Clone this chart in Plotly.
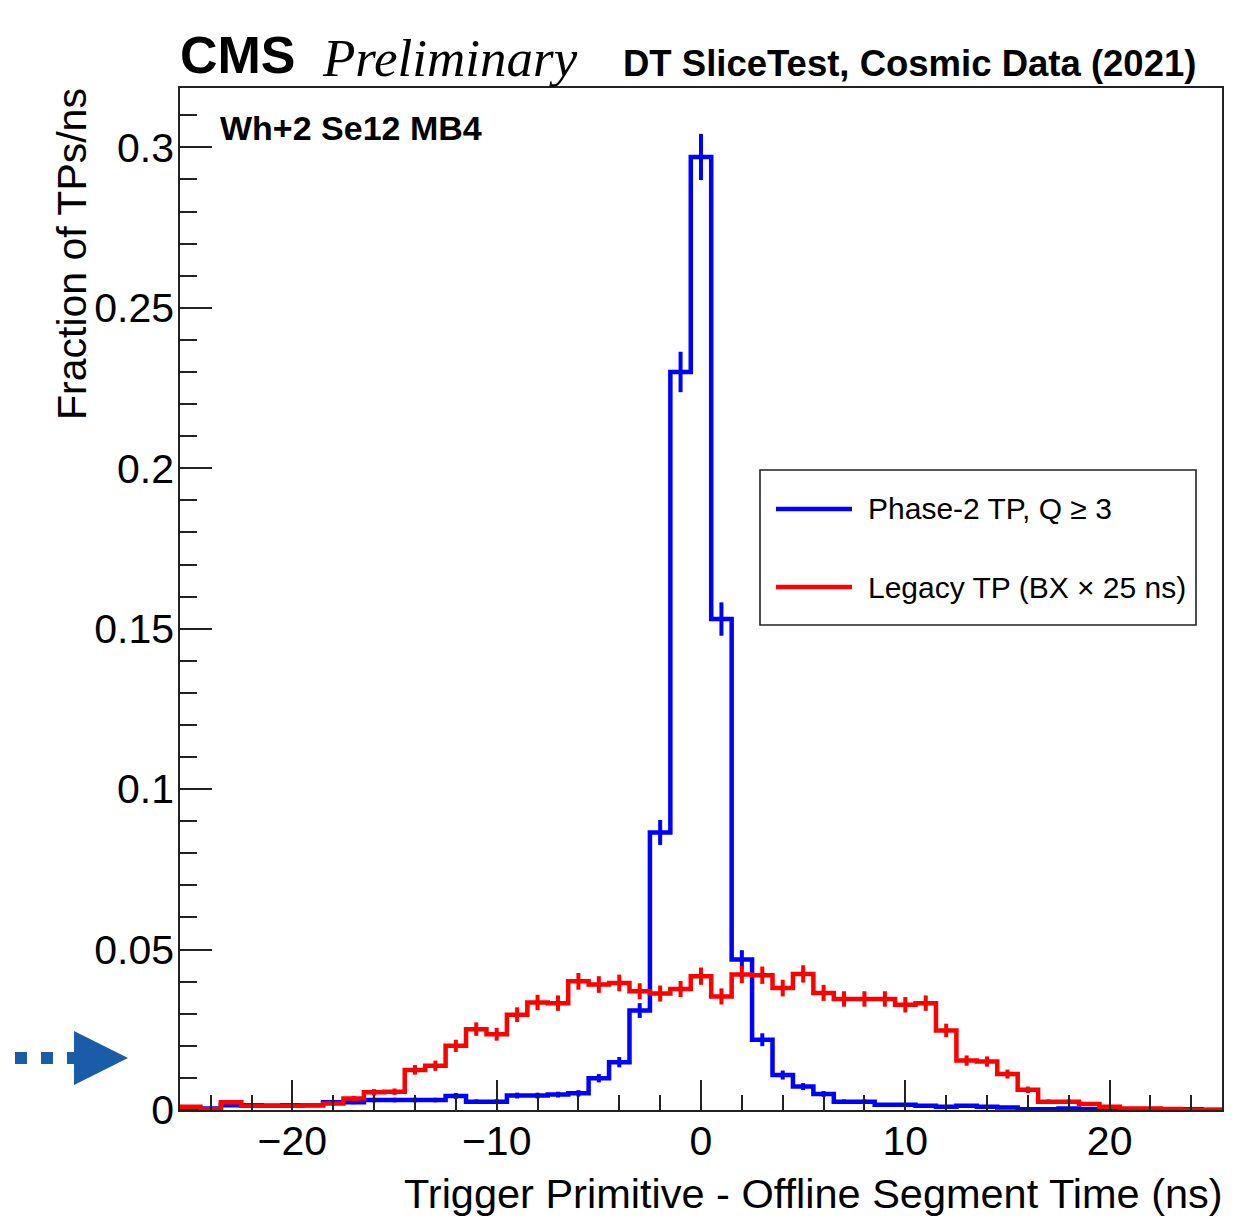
import plotly.graph_objects as go

# ---------------- data ----------------
bin_centers = [-25, -24, -23, -22, -21, -20, -19, -18, -17, -16, -15, -14, -13,
               -12, -11, -10, -9, -8, -7, -6, -5, -4, -3, -2, -1, 0,
               1, 2, 3, 4, 5, 6, 7, 8, 9, 10, 11, 12, 13, 14, 15, 16, 17,
               18, 19, 20, 21, 22, 23, 24, 25]
bin_width = 1.0

phase2_vals = [0.0005, 0.0005, 0.0015, 0.0015, 0.0013, 0.0015, 0.0015, 0.0024, 0.0024,
               0.0031, 0.0031, 0.0031, 0.0031, 0.0044, 0.0026, 0.0026, 0.0045, 0.0045,
               0.0048, 0.0052, 0.0099, 0.0149, 0.0310, 0.0865, 0.2300, 0.2970,
               0.1530, 0.0469, 0.0219, 0.0109, 0.0073, 0.0050, 0.0026, 0.0026, 0.0016,
               0.0016, 0.0013, 0.0010, 0.0013, 0.0010, 0.0008, 0.0002, 0.0002, 0.0005,
               0.0002, 0.0002, 0.0002, 0.0002, 0.0000, 0.0002, 0.0000]
phase2_errs = [0.0003, 0.0003, 0.0005, 0.0005, 0.0005, 0.0005, 0.0005, 0.0006, 0.0006,
               0.0007, 0.0007, 0.0007, 0.0007, 0.0009, 0.0007, 0.0007, 0.0009, 0.0009,
               0.0009, 0.0010, 0.0013, 0.0016, 0.0023, 0.0039, 0.0063, 0.0072,
               0.0052, 0.0029, 0.0020, 0.0014, 0.0011, 0.0009, 0.0007, 0.0007, 0.0005,
               0.0005, 0.0005, 0.0004, 0.0005, 0.0004, 0.0004, 0.0002, 0.0002, 0.0003,
               0.0002, 0.0002, 0.0002, 0.0002, 0.0000, 0.0002, 0.0000]

legacy_vals = [0.0010, 0.0002, 0.0024, 0.0013, 0.0013, 0.0013, 0.0015, 0.0020, 0.0036,
               0.0055, 0.0057, 0.0125, 0.0138, 0.0200, 0.0252, 0.0236, 0.0297, 0.0335,
               0.0333, 0.0401, 0.0391, 0.0396, 0.0370, 0.0363, 0.0377, 0.0417,
               0.0354, 0.0422, 0.0420, 0.0380, 0.0424, 0.0365, 0.0346, 0.0346, 0.0346,
               0.0328, 0.0333, 0.0248, 0.0154, 0.0151, 0.0112, 0.0063, 0.0026, 0.0026,
               0.0019, 0.0010, 0.0005, 0.0005, 0.0003, 0.0001, 0.0001]
legacy_errs = [0.0004, 0.0002, 0.0006, 0.0005, 0.0005, 0.0005, 0.0005, 0.0006, 0.0008,
               0.0010, 0.0010, 0.0015, 0.0016, 0.0019, 0.0021, 0.0020, 0.0023, 0.0024,
               0.0024, 0.0026, 0.0026, 0.0026, 0.0025, 0.0025, 0.0025, 0.0027,
               0.0025, 0.0027, 0.0027, 0.0026, 0.0027, 0.0025, 0.0024, 0.0024, 0.0024,
               0.0024, 0.0024, 0.0021, 0.0016, 0.0016, 0.0014, 0.0010, 0.0007, 0.0007,
               0.0006, 0.0004, 0.0003, 0.0003, 0.0002, 0.0001, 0.0001]

x_tickvals = [-20, -10, 0, 10, 20]
y_tickvals = [0, 0.05, 0.1, 0.15, 0.2, 0.25, 0.3]
y_ticktext = ["0", "0.05", "0.1", "0.15", "0.2", "0.25", "0.3"]

series_names = ["Phase-2 TP, Q \u2265 3", "Legacy TP (BX \u00d7 25 ns)"]
series_colors = ["#0000ff", "#ff0000"]

# ---------------- layout geometry ----------------
# page body has an 8 px default margin, so the figure is shifted by (8, 8)
OFF = 8
W, H = 1251 - 2 * OFF, 1225 - 2 * OFF
PLOT_L, PLOT_R, PLOT_T, PLOT_B = 180, 1222, 88, 1110   # target, in window pixels
ML, MT = PLOT_L - OFF, PLOT_T - OFF
PW, PH = PLOT_R - PLOT_L, PLOT_B - PLOT_T
MR, MB = W - ML - PW, H - MT - PH


def px_x(px):
    return (px - PLOT_L) / PW


def px_y(py):
    return (PLOT_B - py) / PH


FONT = "Liberation Sans, Arial, Helvetica, sans-serif"
SERIF = "Liberation Serif, Times New Roman, serif"

fig = go.Figure()


def add_hist(vals, errs, color, name):
    edges = [c - bin_width / 2 for c in bin_centers] + [bin_centers[-1] + bin_width / 2]
    ys = list(vals) + [vals[-1]]
    fig.add_trace(go.Scatter(x=edges, y=ys, mode="lines", line=dict(color=color, width=4.5, shape="hv"),
                             name=name, showlegend=False, hoverinfo="skip"))
    fig.add_trace(go.Scatter(x=bin_centers, y=vals, mode="markers",
                             marker=dict(size=1, color=color),
                             error_y=dict(type="data", array=errs, visible=True, width=0,
                                          thickness=4, color=color),
                             showlegend=False, name=name))


add_hist(phase2_vals, phase2_errs, series_colors[0], series_names[0])
add_hist(legacy_vals, legacy_errs, series_colors[1], series_names[1])

axis_common = dict(showline=True, mirror=True, linecolor="#222222", linewidth=1.6,
                   showgrid=False, zeroline=False, ticks="inside", tickcolor="#222222",
                   tickwidth=1.5, tickfont=dict(family=FONT, size=41, color="black"))

fig.update_xaxes(range=[-25.5, 25.5], tickvals=x_tickvals, ticklen=30,
                 minor=dict(dtick=2, tick0=0, ticks="inside", ticklen=15, tickwidth=1.5,
                            tickcolor="#222222", showgrid=False),
                 ticklabelstandoff=-6, **axis_common)
fig.update_yaxes(range=[0, 0.3185], tickvals=y_tickvals, ticktext=y_ticktext, ticklen=32,
                 minor=dict(dtick=0.01, tick0=0, ticks="inside", ticklen=17, tickwidth=1.5,
                            tickcolor="#222222", showgrid=False),
                 ticklabelstandoff=-4, **axis_common)

annotations = [
    dict(text="<b>CMS</b>", x=px_x(178), y=px_y(55), xanchor="left", yanchor="middle",
         font=dict(family=FONT, size=52, color="black")),
    dict(text="<i>Preliminary</i>", x=px_x(320), y=px_y(58), xanchor="left", yanchor="middle",
         font=dict(family=SERIF, size=53, color="black")),
    dict(text="<b>DT SliceTest, Cosmic Data (2021)</b>", x=px_x(1198), y=px_y(63),
         xanchor="right", yanchor="middle", font=dict(family=FONT, size=36.5, color="black")),
    dict(text="<b>Wh+2 Se12 MB4</b>", x=px_x(218), y=px_y(128), xanchor="left", yanchor="middle",
         font=dict(family=FONT, size=34, color="black")),
    dict(text="Fraction of TPs/ns", x=px_x(72), y=px_y(86), xanchor="center", yanchor="top",
         textangle=-90, font=dict(family=FONT, size=41, color="black")),
    dict(text="Trigger Primitive - Offline Segment Time (ns)", x=px_x(1225), y=px_y(1193),
         xanchor="right", yanchor="middle", font=dict(family=FONT, size=41.5, color="black")),
    dict(text=series_names[0], x=px_x(866), y=px_y(509), xanchor="left", yanchor="middle",
         font=dict(family=FONT, size=30, color="black")),
    dict(text=series_names[1], x=px_x(866), y=px_y(587), xanchor="left", yanchor="middle",
         font=dict(family=FONT, size=30, color="black")),
]
for a in annotations:
    a.update(xref="paper", yref="paper", showarrow=False)

arrow_color = "#1b5ca8"
shapes = [
    # legend box
    dict(type="rect", x0=px_x(760), x1=px_x(1196), y0=px_y(625), y1=px_y(470),
         line=dict(color="#222222", width=1.6), fillcolor="white", layer="below"),
    dict(type="line", x0=px_x(776), x1=px_x(852), y0=px_y(509), y1=px_y(509),
         line=dict(color=series_colors[0], width=4.5)),
    dict(type="line", x0=px_x(776), x1=px_x(852), y0=px_y(587), y1=px_y(587),
         line=dict(color=series_colors[1], width=4.5)),
    # external dotted arrow
    dict(type="line", x0=px_x(-11), x1=px_x(76), y0=px_y(1058), y1=px_y(1058),
         line=dict(color=arrow_color, width=12, dash="12px,14px")),
    dict(type="path",
         path=f"M {px_x(74)},{px_y(1031)} L {px_x(128)},{px_y(1058)} L {px_x(74)},{px_y(1085)} Z",
         fillcolor=arrow_color, line=dict(color=arrow_color, width=0)),
]
for s in shapes:
    s.update(xref="paper", yref="paper")

fig.update_layout(width=W, height=H, margin=dict(l=ML, r=MR, t=MT, b=MB, autoexpand=False),
                  paper_bgcolor="white", plot_bgcolor="white", showlegend=False,
                  annotations=annotations, shapes=shapes)

fig.write_html("out.html")
